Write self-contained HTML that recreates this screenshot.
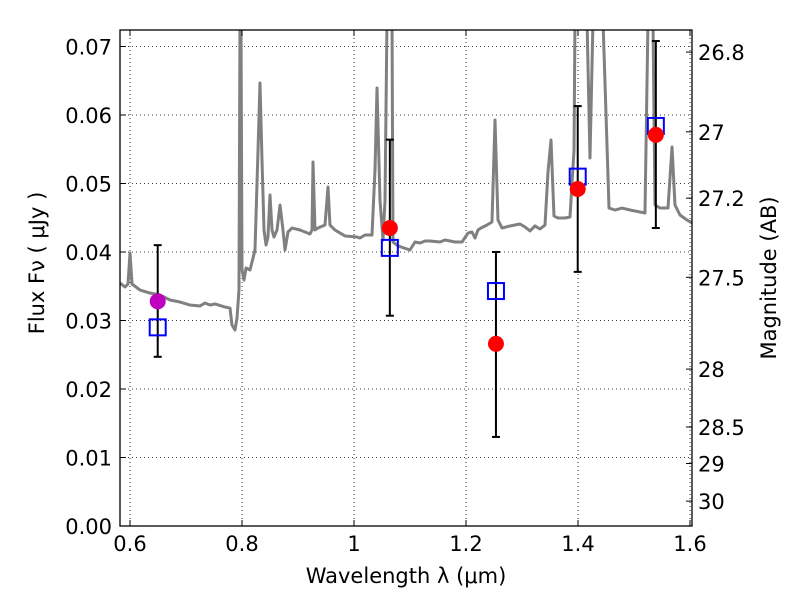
<!DOCTYPE html>
<html><head><meta charset="utf-8"><style>
body{margin:0;background:#fff}
svg text{font-family:"DejaVu Sans","Liberation Sans",sans-serif;fill:#000}
</style></head><body>
<svg id="c" width="800" height="600" xmlns="http://www.w3.org/2000/svg"></svg>
<script>
const specPx=[[120,283],[125,287],[128,284],[130,253],[132,284],[140,290],[150,293],[160,295],[170,300],[180,302],[190,305],[200,306],[205,303],[210,305],[215,304],[225,307],[230,308],[232,325],[235,330],[237,318],[239,290],[240,20],[241,20],[242,270],[244,280],[246,268],[250,270],[252,262],[255,250],[258,150],[260,83],[262,160],[264,230],[266,245],[268,237],[270,195],[272,230],[274,237],[277,230],[280,205],[283,230],[285,250],[288,232],[292,228],[300,230],[310,234],[312,230],[313,162],[315,230],[318,228],[325,225],[328,187],[330,225],[335,230],[345,236],[357,237],[360,238],[365,235],[372,235],[375,170],[377,88],[380,200],[383,240],[385,200],[387,20],[392,20],[393,242],[398,246],[410,250],[415,242],[420,243],[425,241],[430,241],[440,242],[445,240],[455,242],[462,242],[468,233],[472,232],[475,238],[478,230],[481,228],[487,225],[492,222],[495,120],[498,220],[502,228],[510,226],[520,224],[525,227],[530,231],[535,226],[540,229],[545,225],[548,172],[551,140],[554,216],[558,218],[565,218],[570,217],[574,150],[575,20],[587,20],[590,158],[593,20],[603,20],[609,208],[615,210],[622,208],[630,210],[640,212],[645,213],[648,20],[653,20],[655,205],[660,208],[668,208],[672,147],[675,205],[680,215],[687,220],[692,223]];
const specLambda=specPx.map(p=>+(0.6+(p[0]-130)/560).toFixed(4));
const specFlux=specPx.map(p=>+((526-p[1])/6850).toFixed(5));
const photLambda=[0.6495,1.064,1.2535,1.3995,1.539];
const photFlux=[0.0328,0.0435,0.0266,0.0492,0.0571];
const photHi=[0.0410,0.0564,0.0400,0.0613,0.0708];
const photLo=[0.0247,0.0307,0.0130,0.0371,0.0435];
const modelFlux=[0.0290,0.0406,0.0343,0.0510,0.0584];
const xTicks=[0.6,0.8,1.0,1.2,1.4,1.6];
const xTickLabels=["0.6","0.8","1","1.2","1.4","1.6"];
const yTicks=[0,0.01,0.02,0.03,0.04,0.05,0.06,0.07];
const magTicks=[26.8,27,27.2,27.5,28,28.5,29,30];

const L=120,R=692,T=30,B=526;
const X=v=>130+(v-0.6)*560;
const Y=v=>526-v*6850;
const svg=document.getElementById('c');
const NS='http://www.w3.org/2000/svg';
function mk(tag,at,parent){const e=document.createElementNS(NS,tag);for(const k in at)e.setAttribute(k,at[k]);(parent||svg).appendChild(e);return e;}
const defs=mk('defs',{});const cp=mk('clipPath',{id:'clip'},defs);mk('rect',{x:L,y:T,width:R-L,height:B-T},cp);

xTicks.forEach(t=>{const g=mk('line',{x1:X(t),x2:X(t),y1:T,y2:B,stroke:'#000','stroke-width':0.8,'stroke-dasharray':'1,3'});

});
yTicks.forEach(t=>{const g=mk('line',{x1:L,x2:R,y1:Y(t),y2:Y(t),stroke:'#000','stroke-width':0.8,'stroke-dasharray':'1,3'});

});

const sp=mk('polyline',{points:specLambda.map((l,i)=>X(l)+','+Y(specFlux[i])).join(' '),fill:'none',stroke:'#808080','stroke-width':3,'stroke-linejoin':'round','clip-path':'url(#clip)'});



photLambda.forEach((l,i)=>{const g=mk('g',{stroke:'#000','stroke-width':2});


const x=X(l);mk('line',{x1:x,x2:x,y1:Y(photHi[i]),y2:Y(photLo[i])},g);
mk('line',{x1:x-4,x2:x+4,y1:Y(photHi[i]),y2:Y(photHi[i])},g);
mk('line',{x1:x-4,x2:x+4,y1:Y(photLo[i]),y2:Y(photLo[i])},g);});
photLambda.forEach((l,i)=>{const s=mk('rect',{x:X(l)-8,y:Y(modelFlux[i])-8,width:16,height:16,fill:'none',stroke:'#0000ff','stroke-width':2});

});
photLambda.forEach((l,i)=>{const c=mk('circle',{cx:X(l),cy:Y(photFlux[i]),r:8,fill:i==0?'#bf00bf':'#ff0000'});

});

const fr=mk('rect',{x:L,y:T,width:R-L,height:B-T,fill:'none',stroke:'#000','stroke-width':1.3});



xTicks.forEach((t,i)=>{mk('line',{x1:X(t),x2:X(t),y1:B,y2:B-6,stroke:'#000'});mk('line',{x1:X(t),x2:X(t),y1:T,y2:T+6,stroke:'#000'});
const tx=mk('text',{x:X(t),y:551,'font-size':21,'text-anchor':'middle'});tx.textContent=xTickLabels[i];

});
yTicks.forEach(t=>{mk('line',{x1:L,x2:L+6,y1:Y(t),y2:Y(t),stroke:'#000'});
const tx=mk('text',{x:112,y:Y(t)+8,'font-size':21,'text-anchor':'end'});tx.textContent=t.toFixed(2);

});
magTicks.forEach(m=>{const f=Math.pow(10,(23.9-m)/2.5);const y=Y(f);
mk('line',{x1:R,x2:R-6,y1:y,y2:y,stroke:'#000'});
const tx=mk('text',{x:698,y:y+8,'font-size':21});tx.textContent=String(m);

});

const xt=mk('text',{x:406,y:583,'font-size':21,'text-anchor':'middle'});xt.textContent='Wavelength  λ (μm)';


const yt=mk('text',{x:44,y:263,'font-size':21,'text-anchor':'middle',transform:'rotate(-90 44 263)'});yt.textContent='Flux  Fν  ( μJy )';


const rt=mk('text',{x:776,y:278,'font-size':21,'text-anchor':'middle',transform:'rotate(-90 776 278)'});rt.textContent='Magnitude (AB)';


</script>
</body></html>
